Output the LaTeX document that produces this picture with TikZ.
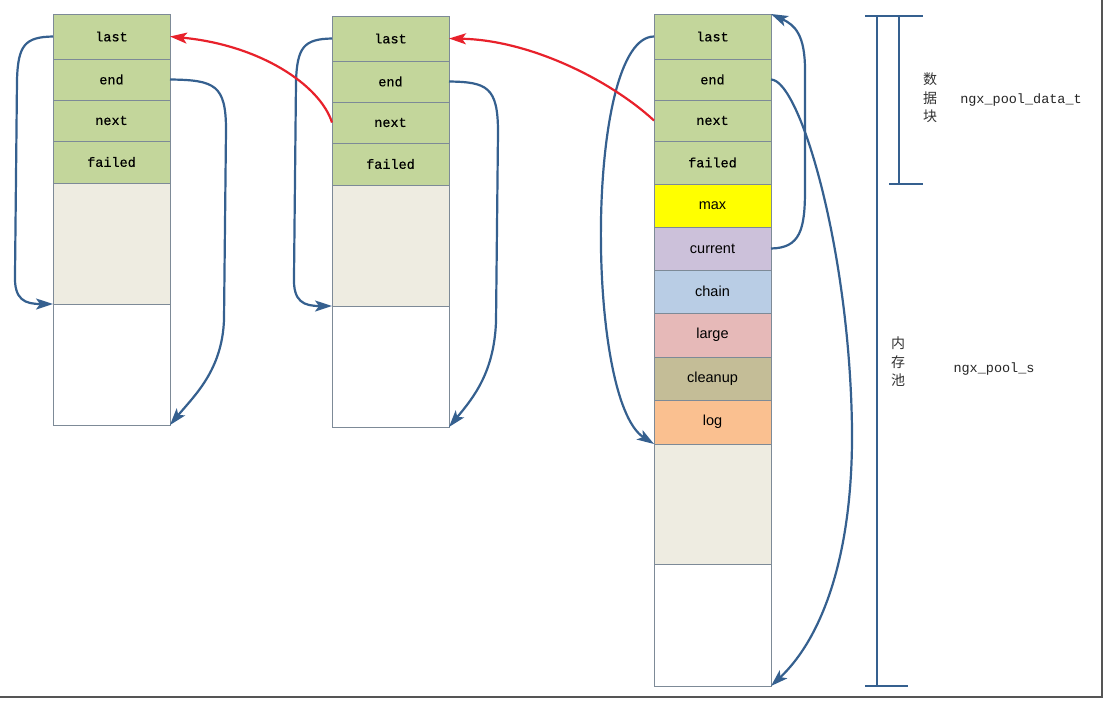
\documentclass[tikz,border=0pt]{standalone}
\usepackage{fontspec}
\usepackage{tikz}
\usetikzlibrary{positioning,arrows.meta}
\newfontfamily\fieldfont[FakeBold=0.6]{Liberation Mono}
\newfontfamily\notefont{Liberation Mono}
\newfontfamily\attrfont{Liberation Sans}
\newfontfamily\cjkfont{Noto Sans CJK SC}
\definecolor{cellline}{HTML}{7D8A97}
\definecolor{hdrgreen}{HTML}{C3D69B}
\definecolor{usedgray}{HTML}{EEECE1}
\definecolor{maxyellow}{HTML}{FFFF00}
\definecolor{curlilac}{HTML}{CCC1DA}
\definecolor{chainblue}{HTML}{B9CDE5}
\definecolor{largepink}{HTML}{E6B9B8}
\definecolor{cleanolive}{HTML}{C4BD97}
\definecolor{logorange}{HTML}{FAC090}
\definecolor{linkblue}{HTML}{35608F}
\definecolor{backred}{HTML}{E8212B}
\definecolor{framegray}{HTML}{555555}
\tikzset{
  cell/.style={draw=cellline, line width=0.9pt, minimum width=117pt, inner sep=0pt, outer sep=0pt,
    font=\fieldfont\fontsize{13.5}{16}\selectfont},
  hdr/.style={cell, fill=hdrgreen},
  attr/.style={cell, minimum height=43pt, font=\attrfont\fontsize{14.5}{17}\selectfont},
  usedcell/.style={cell, fill=usedgray},
  freecell/.style={cell, fill=white},
  link/.style={draw=linkblue, line width=2.2pt, -{Stealth[length=17pt,width=11pt,inset=4pt]}},
  backlink/.style={draw=backred, line width=2.2pt, -{Stealth[length=17pt,width=11pt,inset=4pt]}},
  bar/.style={draw=linkblue, line width=2.6pt},
  note/.style={inner sep=0pt, text=black!85, font=\notefont\fontsize{13.5}{16}\selectfont},
  cjknote/.style={inner sep=0pt, align=center, text=black!80, font=\cjkfont\fontsize{14}{18.5}\selectfont}
}
\begin{document}
\begin{tikzpicture}[x=1pt, y=1pt]
\useasboundingbox (0,0) rectangle (1106,-702);
\fill[white] (0,0) rectangle (1106,-702);

% first data block
\node[hdr, anchor=north west, minimum height=45pt] (L-last) at (53,-14) {last};
\node[hdr, minimum height=41pt, below=0pt of L-last] (L-end) {end};
\node[hdr, minimum height=41pt, below=0pt of L-end] (L-next) {next};
\node[hdr, minimum height=42pt, below=0pt of L-next] (L-failed) {failed};
\node[usedcell, minimum height=121pt, below=0pt of L-failed] (L-used) {};
\node[freecell, minimum height=121pt, below=0pt of L-used] (L-free) {};

% second data block
\node[hdr, anchor=north west, minimum height=45pt] (M-last) at (332,-16) {last};
\node[hdr, minimum height=41pt, below=0pt of M-last] (M-end) {end};
\node[hdr, minimum height=41pt, below=0pt of M-end] (M-next) {next};
\node[hdr, minimum height=42pt, below=0pt of M-next] (M-failed) {failed};
\node[usedcell, minimum height=121pt, below=0pt of M-failed] (M-used) {};
\node[freecell, minimum height=121pt, below=0pt of M-used] (M-free) {};

% the pool itself
\node[hdr, anchor=north west, minimum height=45pt] (R-last) at (654,-14) {last};
\node[hdr, minimum height=41pt, below=0pt of R-last] (R-end) {end};
\node[hdr, minimum height=41pt, below=0pt of R-end] (R-next) {next};
\node[hdr, minimum height=43pt, below=0pt of R-next] (R-failed) {failed};
\node[attr, fill=maxyellow, below=0pt of R-failed] (R-max) {max};
\node[attr, fill=curlilac, below=0pt of R-max] (R-current) {current};
\node[attr, fill=chainblue, below=0pt of R-current] (R-chain) {chain};
\node[attr, fill=largepink, minimum height=44pt, below=0pt of R-chain] (R-large) {large};
\node[attr, fill=cleanolive, below=0pt of R-large] (R-cleanup) {cleanup};
\node[attr, fill=logorange, minimum height=44pt, below=0pt of R-cleanup] (R-log) {log};
\node[usedcell, minimum height=120pt, below=0pt of R-log] (R-used) {};
\node[freecell, minimum height=122pt, below=0pt of R-used] (R-free) {};

% last / end pointers
\draw[link] (L-last.west) .. controls (25,-37) and (18,-45) .. (17,-80) -- (15,-275)
  .. controls (14,-300) and (25,-304) .. (L-free.north west);
\draw[link] (L-end.east) .. controls (215,-80) and (226,-85) .. (226,-130) -- (224,-320)
  .. controls (222,-370) and (195,-395) .. (L-free.south east);
\draw[link] (M-last.west) .. controls (304,-39) and (297,-47) .. (296,-82) -- (294,-277)
  .. controls (293,-302) and (304,-306) .. (M-free.north west);
\draw[link] (M-end.east) .. controls (487,-82) and (498,-87) .. (498,-132) -- (496,-322)
  .. controls (494,-372) and (474,-397) .. (M-free.south east);
\draw[link] (R-last.west) .. controls (585,-37) and (585,-400) .. (R-used.north west);
\draw[link] (R-current.east) .. controls (800,-248) and (805,-230) .. (805,-190) -- (805,-70)
  .. controls (805,-35) and (795,-25) .. (R-last.north east);
\draw[link] (R-end.east) .. controls (800,-80) and (850,-250) .. (852,-430)
  .. controls (853,-560) and (820,-640) .. (R-free.south east);

% next pointers
\draw[backlink] (M-next.west) .. controls (320,-85) and (260,-45) .. (L-last.east);
\draw[backlink] (R-next.west) .. controls (610,-80) and (530,-40) .. (M-last.east);

% size brackets
\draw[bar] (865,-16) -- (923,-16);
\draw[bar] (877,-16) -- (877,-686);
\draw[bar] (865,-686) -- (908,-686);
\draw[bar] (899,-16) -- (899,-184);
\draw[bar] (889,-184) -- (923,-184);
\node[cjknote] (blk-cn) at (930,-98) {数\\据\\块};
\node[note] (blk-type) at (1021,-100) {ngx\_pool\_data\_t};
\node[cjknote] (pool-cn) at (898,-362) {内\\存\\池};
\node[note] (pool-type) at (994,-369) {ngx\_pool\_s};

\draw[framegray, line width=2pt] (0,-697) -| (1102,0);
\end{tikzpicture}
\end{document}
